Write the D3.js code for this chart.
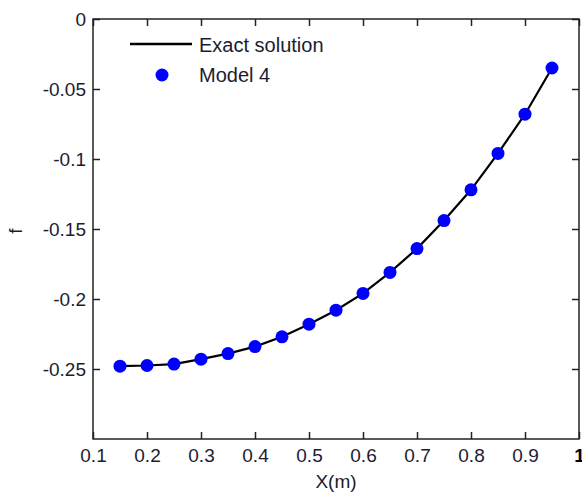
<!DOCTYPE html>
<html>
<head>
<meta charset="utf-8">
<script src="https://cdn.jsdelivr.net/npm/d3@7"></script>
<style>
  body { margin: 0; background: #fff; }
  svg { display: block; font-family: "Liberation Sans", Arial, sans-serif; }
</style>
</head>
<body>
<svg id="chart"></svg>
<script>
var width = 582, height = 495

// data
var xs = [0.15, 0.2, 0.25, 0.3, 0.35, 0.4, 0.45, 0.5, 0.55, 0.6, 0.65, 0.7, 0.75, 0.8, 0.85, 0.9, 0.95]
var exact = [-0.248, -0.2475, -0.2465, -0.243, -0.239, -0.234, -0.227, -0.218, -0.208, -0.196, -0.181, -0.164, -0.144, -0.122, -0.096, -0.068, -0.035]
var model4 = [-0.248, -0.2475, -0.2465, -0.243, -0.239, -0.234, -0.227, -0.218, -0.208, -0.196, -0.181, -0.164, -0.144, -0.122, -0.096, -0.068, -0.035]
var xTicks = [0.1, 0.2, 0.3, 0.4, 0.5, 0.6, 0.7, 0.8, 0.9, 1]
var yTicks = [0, -0.05, -0.1, -0.15, -0.2, -0.25]

// plot box (window.top is reserved, so no "top" here)
var boxL = 93, boxR = 579, boxT = 19, boxB = 439

var svg = d3.select("#chart")
    .attr("width", width)
    .attr("height", height)

var x = d3.scaleLinear().domain([0.1, 1]).range([boxL, boxR])
var y = d3.scaleLinear().domain([-0.3, 0]).range([boxB, boxT])

var textColor = "#1c1c30"
var fontSize = "19px"

// axes with inward ticks
var gx = svg.append("g")
    .attr("transform", "translate(0," + boxB + ")")
    .call(d3.axisBottom(x).tickValues(xTicks).tickSizeInner(-7).tickSizeOuter(0).tickPadding(10)
        .tickFormat(function(d) { return d === 1 ? "1" : d3.format(".1f")(d) }))
svg.append("g")
    .attr("transform", "translate(0," + boxT + ")")
    .call(d3.axisTop(x).tickValues(xTicks).tickSizeInner(-7).tickSizeOuter(0).tickFormat(""))
var gy = svg.append("g")
    .attr("transform", "translate(" + boxL + ",0)")
    .call(d3.axisLeft(y).tickValues(yTicks).tickSizeInner(-7).tickSizeOuter(0).tickPadding(7)
        .tickFormat(function(d) { return d === 0 ? "0" : String(d) }))
svg.append("g")
    .attr("transform", "translate(" + boxR + ",0)")
    .call(d3.axisRight(y).tickValues(yTicks).tickSizeInner(-7).tickSizeOuter(0).tickFormat(""))

svg.selectAll(".domain").remove()
svg.selectAll(".tick line").attr("stroke", "#222").attr("stroke-width", 1.5)
svg.selectAll(".tick text")
    .attr("fill", textColor)
    .style("font-size", fontSize)
gx.selectAll(".tick text").filter(function(d) { return d === 1 }).style("font-weight", "bold").attr("fill", "#000")

svg.append("rect")
    .attr("x", boxL).attr("y", boxT)
    .attr("width", boxR - boxL).attr("height", boxB - boxT)
    .attr("fill", "none")
    .attr("stroke", "#222")
    .attr("stroke-width", 1.5)

// exact solution line
var line = d3.line()
    .x(function(d, i) { return x(xs[i]) })
    .y(function(d) { return y(d) })
svg.append("path")
    .datum(exact)
    .attr("d", line)
    .attr("fill", "none")
    .attr("stroke", "#000")
    .attr("stroke-width", 2.2)

// model 4 markers
svg.selectAll("circle.pt")
    .data(model4)
    .enter()
    .append("circle")
        .attr("class", "pt")
        .attr("cx", function(d, i) { return x(xs[i]) })
        .attr("cy", function(d) { return y(d) })
        .attr("r", 6.5)
        .attr("fill", "#0000ff")

// legend
var lg = svg.append("g")
lg.append("line")
    .attr("x1", 130).attr("x2", 192)
    .attr("y1", 44).attr("y2", 44)
    .attr("stroke", "#000").attr("stroke-width", 2.5)
lg.append("text")
    .attr("x", 199).attr("y", 52)
    .attr("fill", textColor)
    .style("font-size", "20px")
    .text("Exact solution")
lg.append("circle")
    .attr("cx", 162).attr("cy", 75).attr("r", 6.5)
    .attr("fill", "#0000ff")
lg.append("text")
    .attr("x", 199).attr("y", 82)
    .attr("fill", textColor)
    .style("font-size", "20px")
    .text("Model 4")

// axis titles
svg.append("text")
    .attr("x", (boxL + boxR) / 2).attr("y", 488)
    .attr("text-anchor", "middle")
    .attr("fill", textColor)
    .style("font-size", fontSize)
    .text("X(m)")
svg.append("text")
    .attr("transform", "translate(22,231) rotate(-90)")
    .attr("text-anchor", "middle")
    .attr("fill", textColor)
    .style("font-size", fontSize)
    .text("f")
</script>
</body>
</html>
